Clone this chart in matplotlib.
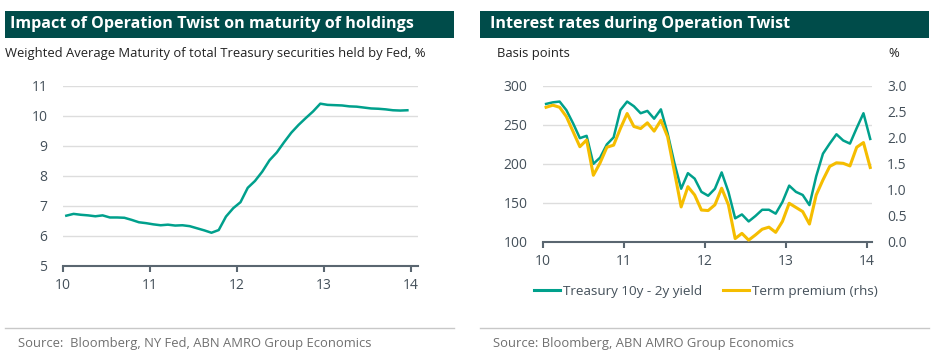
import numpy as np
import matplotlib
matplotlib.use("Agg")
import matplotlib.pyplot as plt
from matplotlib.patches import Rectangle
from matplotlib.lines import Line2D

plt.rcParams['font.family'] = ['Open Sans', 'DejaVu Sans']

# ---------------------------------------------------------
# Data (monthly, x in years since 2000)
# ---------------------------------------------------------
wam_months = 10 + (np.arange(48) + 0.5) / 12
wam = [6.67, 6.73, 6.70, 6.68, 6.65, 6.68, 6.61, 6.61, 6.60, 6.53, 6.45, 6.42,
       6.38, 6.35, 6.37, 6.34, 6.35, 6.32, 6.25, 6.18, 6.10, 6.19, 6.64, 6.92,
       7.12, 7.60, 7.83, 8.14, 8.52, 8.78, 9.12, 9.44, 9.70, 9.93, 10.15, 10.41,
       10.37, 10.36, 10.35, 10.32, 10.31, 10.28, 10.25, 10.24, 10.22, 10.19, 10.18, 10.19]

rate_months = 10 + (np.arange(49) + 0.5) / 12
spread_10y2y = [277, 279, 280, 269, 252, 233, 236, 200, 208, 225, 234, 269,
                280, 274, 265, 268, 258, 270, 239, 201, 168, 188, 181, 164,
                159, 168, 189, 164, 130, 135, 126, 133, 141, 141, 136, 151,
                172, 164, 160, 147, 184, 213, 226, 238, 230, 226, 246, 265, 232]
term_premium = [2.59, 2.63, 2.59, 2.41, 2.12, 1.83, 1.96, 1.28, 1.52, 1.82, 1.86, 2.18,
                2.47, 2.22, 2.18, 2.29, 2.13, 2.34, 2.02, 1.35, 0.67, 1.06, 0.90, 0.61,
                0.60, 0.71, 1.03, 0.71, 0.06, 0.16, 0.03, 0.13, 0.24, 0.28, 0.18, 0.39,
                0.74, 0.66, 0.58, 0.34, 0.90, 1.19, 1.45, 1.52, 1.51, 1.46, 1.82, 1.91, 1.43]

year_ticks = [10, 11, 12, 13, 14]

# ---------------------------------------------------------
# Style
# ---------------------------------------------------------
TEAL = "#00a08c"
YELLOW = "#f5bd00"
HEADER = "#004c4a"
TICK = "#44505a"
GRID = "#dddddd"
SOURCE = "#707070"

fig = plt.figure(figsize=(9.33, 3.52), dpi=100)


def style_axis(ax, ylim, yticks):
    ax.set_ylim(*ylim)
    ax.set_yticks(yticks)
    ax.grid(axis="y", color=GRID, linewidth=1)
    ax.set_axisbelow(True)
    for s in ("left", "right", "top"):
        ax.spines[s].set_visible(False)
    ax.spines["bottom"].set_color("#5a6670")
    ax.spines["bottom"].set_linewidth(1.5)
    ax.tick_params(axis="x", colors="#5a6670", length=4, width=1.5,
                   labelcolor=TICK, labelsize=10, pad=5)
    ax.tick_params(axis="y", length=0, labelcolor=TICK, labelsize=10, pad=11)
    ax.set_xticks(year_ticks)
    ax.set_xticklabels([str(t) for t in year_ticks])


# ---------------------------------------------------------
# Left panel
# ---------------------------------------------------------
ax1 = fig.add_axes([0.0672, 0.2452, 0.3808, 0.5105])
ax1.plot(wam_months, wam, color=TEAL, linewidth=1.8)
ax1.set_xlim(10, 14.08)
style_axis(ax1, (5, 11), range(5, 12))

# ---------------------------------------------------------
# Right panel
# ---------------------------------------------------------
ax2 = fig.add_axes([0.5817, 0.3134, 0.3526, 0.4423])
ax2.plot(rate_months, spread_10y2y, color=TEAL, linewidth=1.8)
ax2.set_xlim(10, 14.06)
style_axis(ax2, (100, 300), range(100, 301, 50))

ax3 = ax2.twinx()
ax3.plot(rate_months, term_premium, color=YELLOW, linewidth=2.2)
ax3.set_ylim(0, 3)
ax3.set_yticks(np.arange(0, 3.01, 0.5))
ax3.set_yticklabels([f"{v:.1f}" for v in np.arange(0, 3.01, 0.5)])
for s in ("left", "right", "top", "bottom"):
    ax3.spines[s].set_visible(False)
ax3.tick_params(axis="y", length=0, labelcolor=TICK, labelsize=10, pad=11)

handles = [Line2D([], [], color=TEAL, linewidth=2.2),
           Line2D([], [], color=YELLOW, linewidth=2.2)]
fig.legend(handles, ["Treasury 10y - 2y yield", "Term premium (rhs)"],
           loc="center", bbox_to_anchor=(0.7567, 0.1713), ncol=2, frameon=False,
           fontsize=9.7, handlelength=1.9, handletextpad=0.2, columnspacing=1.6,
           labelcolor=TICK)

# ---------------------------------------------------------
# Headers, subtitles, sources
# ---------------------------------------------------------
for x0 in (0.00536, 0.5145):
    fig.add_artist(Rectangle((x0, 0.8929), 0.4812, 0.0759, transform=fig.transFigure,
                             facecolor=HEADER, edgecolor="none"))
    fig.add_artist(Line2D([x0, x0 + 0.4812], [0.0673, 0.0673], transform=fig.transFigure,
                          color="#c8c8c8", linewidth=1))

fig.text(0.0107, 0.931, "Impact of Operation Twist on maturity of holdings",
         color="white", fontsize=11.6, fontweight="bold", va="center", ha="left")
fig.text(0.5252, 0.931, "Interest rates during Operation Twist",
         color="white", fontsize=11.6, fontweight="bold", va="center", ha="left")

fig.text(0.00536, 0.8494, "Weighted Average Maturity of total Treasury securities held by Fed, %",
         color="#222222", fontsize=9.4, va="center", ha="left")
fig.text(0.5327, 0.8494, "Basis points", color="#222222", fontsize=9.4, va="center", ha="left")
fig.text(0.952, 0.8494, "%", color="#222222", fontsize=9.4, va="center", ha="left")

fig.text(0.0196, 0.0247, "Source:  Bloomberg, NY Fed, ABN AMRO Group Economics",
         color=SOURCE, fontsize=9.35, va="center", ha="left")
fig.text(0.5284, 0.0247, "Source: Bloomberg, ABN AMRO Group Economics",
         color=SOURCE, fontsize=9.35, va="center", ha="left")

fig.savefig("out.png", dpi=100)
